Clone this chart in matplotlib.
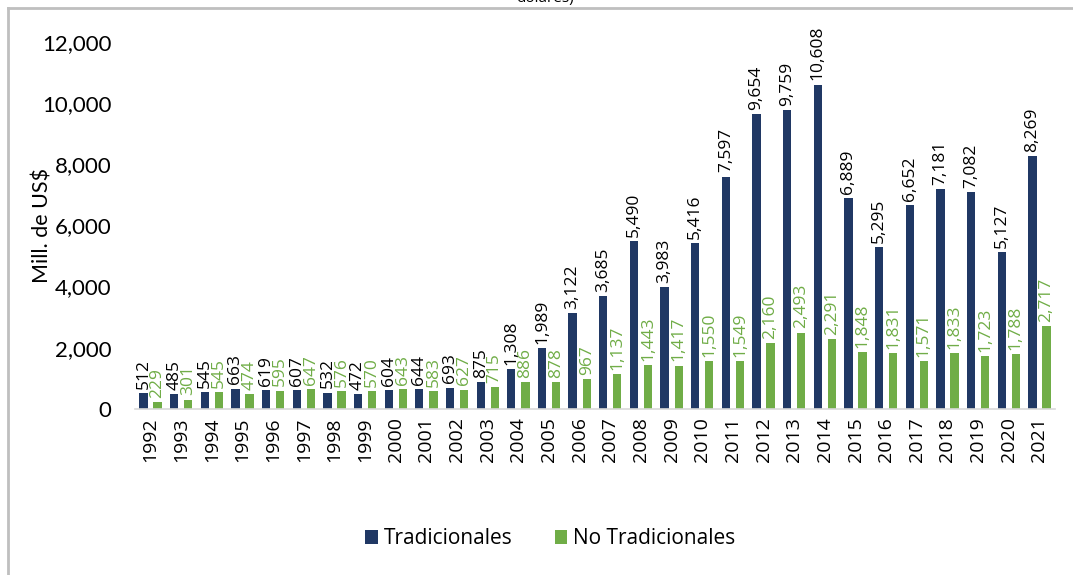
import matplotlib.pyplot as plt
import numpy as np
from matplotlib.lines import Line2D

years = [str(y) for y in range(1992, 2022)]
tradicionales = [512, 485, 545, 663, 619, 607, 532, 472, 604, 644, 693, 875, 1308, 1989,
                 3122, 3685, 5490, 3983, 5416, 7597, 9654, 9759, 10608, 6889, 5295, 6652,
                 7181, 7082, 5127, 8269]
no_tradicionales = [229, 301, 545, 474, 595, 647, 576, 570, 643, 583, 627, 715, 886, 878,
                    967, 1137, 1443, 1417, 1550, 1549, 2160, 2493, 2291, 1848, 1831, 1571,
                    1833, 1723, 1788, 2717]

navy = '#203864'
green = '#70AD47'
plt.rcParams['font.family'] = ['Open Sans', 'DejaVu Sans']

fig = plt.figure(figsize=(10.73, 5.75), dpi=100)
ax = fig.add_axes([0.126, 0.289, 0.857, 0.638])

x = np.arange(len(years))
w = 0.27
off = 0.23
b1 = ax.bar(x - off, tradicionales, w, color=navy, label='Tradicionales')
b2 = ax.bar(x + off, no_tradicionales, w, color=green, label='No Tradicionales')

for rect, v in zip(b1, tradicionales):
    ax.annotate(f'{v:,}', (rect.get_x() + rect.get_width() / 2, v), xytext=(0, 3),
                textcoords='offset points', rotation=90, ha='center', va='bottom',
                fontsize=12.5, color='black', clip_on=False)
for rect, v in zip(b2, no_tradicionales):
    ax.annotate(f'{v:,}', (rect.get_x() + rect.get_width() / 2, v), xytext=(0, 3),
                textcoords='offset points', rotation=90, ha='center', va='bottom',
                fontsize=12.5, color=green, clip_on=False)

ax.set_xlim(-0.5, len(years) - 0.5)
ax.set_ylim(0, 12000)
ax.set_yticks(range(0, 12001, 2000))
ax.set_yticklabels([f'{t:,}' for t in range(0, 12001, 2000)], fontsize=16,
                   family=['Lato', 'DejaVu Sans'])
ax.set_xticks(x)
ax.set_xticklabels(years, rotation=90, fontsize=14)
ax.tick_params(axis='both', length=0)
ax.tick_params(axis='y', pad=17)
ax.tick_params(axis='x', pad=6)
for s in ['top', 'right', 'left']:
    ax.spines[s].set_visible(False)
ax.spines['bottom'].set_color('#D9D9D9')
ax.spines['bottom'].set_linewidth(1.2)
ax.set_ylabel('Mill. de US$', fontsize=15.5, family=['Lato', 'DejaVu Sans'])
ax.yaxis.set_label_coords(-0.09, 0.5)

fig.legend(handles=[b1, b2], loc='center', bbox_to_anchor=(0.513, 0.063), ncol=2,
           frameon=False, fontsize=15, handlelength=0.6, handleheight=0.6,
           handletextpad=0.3, columnspacing=2.0)

# border of the surrounding frame (left and top only visible)
fig.add_artist(Line2D([8 / 1073, 8 / 1073], [0, 1 - 8 / 575], transform=fig.transFigure,
                      color='#BFBFBF', lw=2))
fig.add_artist(Line2D([8 / 1073, 1], [1 - 8 / 575, 1 - 8 / 575], transform=fig.transFigure,
                      color='#BFBFBF', lw=2))
fig.text(545 / 1073, 1.003, 'dólares)', ha='center', va='center', fontsize=11)

fig.savefig('out.png', dpi=100, facecolor='white')
